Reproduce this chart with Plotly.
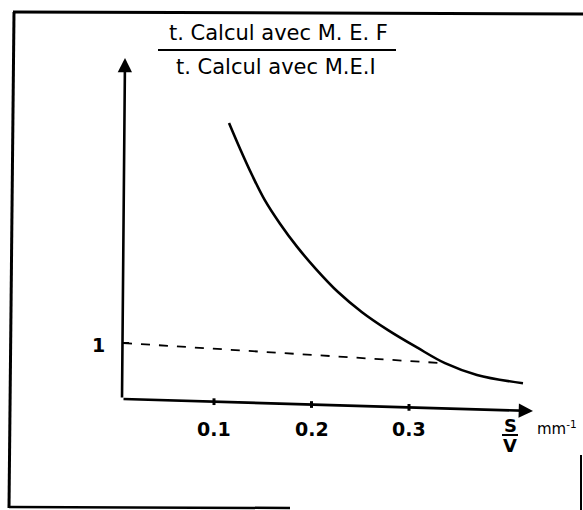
import plotly.graph_objects as go

# ---- data ----
curve_x = [0.1154, 0.1267, 0.1390, 0.1518, 0.1677, 0.1851, 0.2046, 0.2272, 0.2518,
           0.2785, 0.3082, 0.3369, 0.3697, 0.4169]
curve_y = [4.93, 4.47, 4.00, 3.56, 3.13, 2.72, 2.32, 1.91, 1.55,
           1.23, 0.92, 0.64, 0.43, 0.28]
ref_x = [0.0067, 0.335]
ref_y = [1.0, 0.64]
xtick_vals = [0.1, 0.2, 0.3]
xtick_labels = ["0.1", "0.2", "0.3"]
ytick_vals = [1]
ytick_labels = ["1"]
title_num = "t. Calcul avec M. E. F"
title_den = "t. Calcul avec M.E.I"

W, H = 583, 510
X0, XS = 116.5, 975.0   # pixel of x=0, px per unit
Y0, YS = 399.0, 56.0    # pixel of y=0, px per unit
xr = [-X0 / XS, (W - X0) / XS]
yr = [(Y0 - H) / YS, Y0 / YS]

def dx(px):
    return (px - X0) / XS

def dy(py):
    return (Y0 - py) / YS

FONT = "DejaVu Sans"

fig = go.Figure()
fig.add_trace(go.Scatter(x=curve_x, y=curve_y, mode="lines",
                         line=dict(color="black", width=2.6, shape="spline", smoothing=1.0),
                         hoverinfo="skip"))
fig.add_trace(go.Scatter(x=ref_x, y=ref_y, mode="lines",
                         line=dict(color="black", width=1.8, dash="9px,9px"),
                         hoverinfo="skip"))

# axes (hand-drawn, slightly tilted)
ax_org = (dx(122), dy(399))
x_tip = (dx(533), dy(411))
y_tip = (dx(125), dy(58))

def x_axis_y(x):
    return ax_org[1] + (x_tip[1] - ax_org[1]) * (x - ax_org[0]) / (x_tip[0] - ax_org[0])

annos = []
for tip in (x_tip, y_tip):
    annos.append(dict(x=tip[0], y=tip[1], ax=ax_org[0], ay=ax_org[1], xref="x", yref="y",
                      axref="x", ayref="y", text="", showarrow=True, arrowhead=2,
                      arrowsize=1.1, arrowwidth=2.6, arrowcolor="black", standoff=0))

shapes = []
for v, lab in zip(xtick_vals, xtick_labels):
    yy = x_axis_y(v)
    shapes.append(dict(type="line", xref="x", yref="y", x0=v, x1=v, y0=yy - 0.06, y1=yy + 0.06,
                       line=dict(color="black", width=3)))
    annos.append(dict(x=v, y=dy(429), xref="x", yref="y", text="<b>" + lab + "</b>",
                      showarrow=False, font=dict(family=FONT, size=19, color="black")))
for v, lab in zip(ytick_vals, ytick_labels):
    shapes.append(dict(type="line", xref="x", yref="y", x0=ax_org[0], x1=dx(129), y0=v, y1=v,
                       line=dict(color="black", width=2)))
    annos.append(dict(x=dx(98), y=dy(345), xref="x", yref="y", text="<b>" + lab + "</b>",
                      showarrow=False, font=dict(family=FONT, size=19, color="black")))

# x-axis label S/V mm^-1
annos.append(dict(x=dx(510), y=dy(425), xref="x", yref="y", text="<b>S</b>", showarrow=False,
                  font=dict(family=FONT, size=18, color="black")))
shapes.append(dict(type="line", xref="x", yref="y", x0=dx(502), x1=dx(518), y0=dy(435), y1=dy(435),
                   line=dict(color="black", width=2)))
annos.append(dict(x=dx(510), y=dy(445), xref="x", yref="y", text="<b>V</b>", showarrow=False,
                  font=dict(family=FONT, size=18, color="black")))
annos.append(dict(x=dx(535), y=dy(428), xref="x", yref="y", xanchor="left", text="mm<sup>-1</sup>",
                  showarrow=False, font=dict(family=FONT, size=15, color="black")))

# title (fraction)
annos.append(dict(x=dx(278), y=dy(33), xref="x", yref="y", text=title_num, showarrow=False,
                  font=dict(family=FONT, size=21, color="black")))
shapes.append(dict(type="line", xref="x", yref="y", x0=dx(158), x1=dx(396), y0=dy(50), y1=dy(50),
                   line=dict(color="black", width=2)))
annos.append(dict(x=dx(276), y=dy(67), xref="x", yref="y", text=title_den, showarrow=False,
                  font=dict(family=FONT, size=21, color="black")))

# hand-drawn frame
def pline(x0, y0, x1, y1, w=3):
    return dict(type="line", xref="paper", yref="paper", x0=x0 / W, x1=x1 / W,
                y0=1 - y0 / H, y1=1 - y1 / H, line=dict(color="black", width=w))

shapes += [pline(13, 12, 583, 14), pline(14, 12, 9, 508), pline(9, 507, 290, 508, 2.5),
           pline(581, 455, 581, 510, 2)]

fig.update_layout(
    width=W, height=H, margin=dict(l=0, r=0, t=0, b=0),
    paper_bgcolor="white", plot_bgcolor="white", showlegend=False,
    xaxis=dict(range=xr, visible=False, fixedrange=True),
    yaxis=dict(range=yr, visible=False, fixedrange=True),
    shapes=shapes, annotations=annos,
)
fig.write_html("out.html")
